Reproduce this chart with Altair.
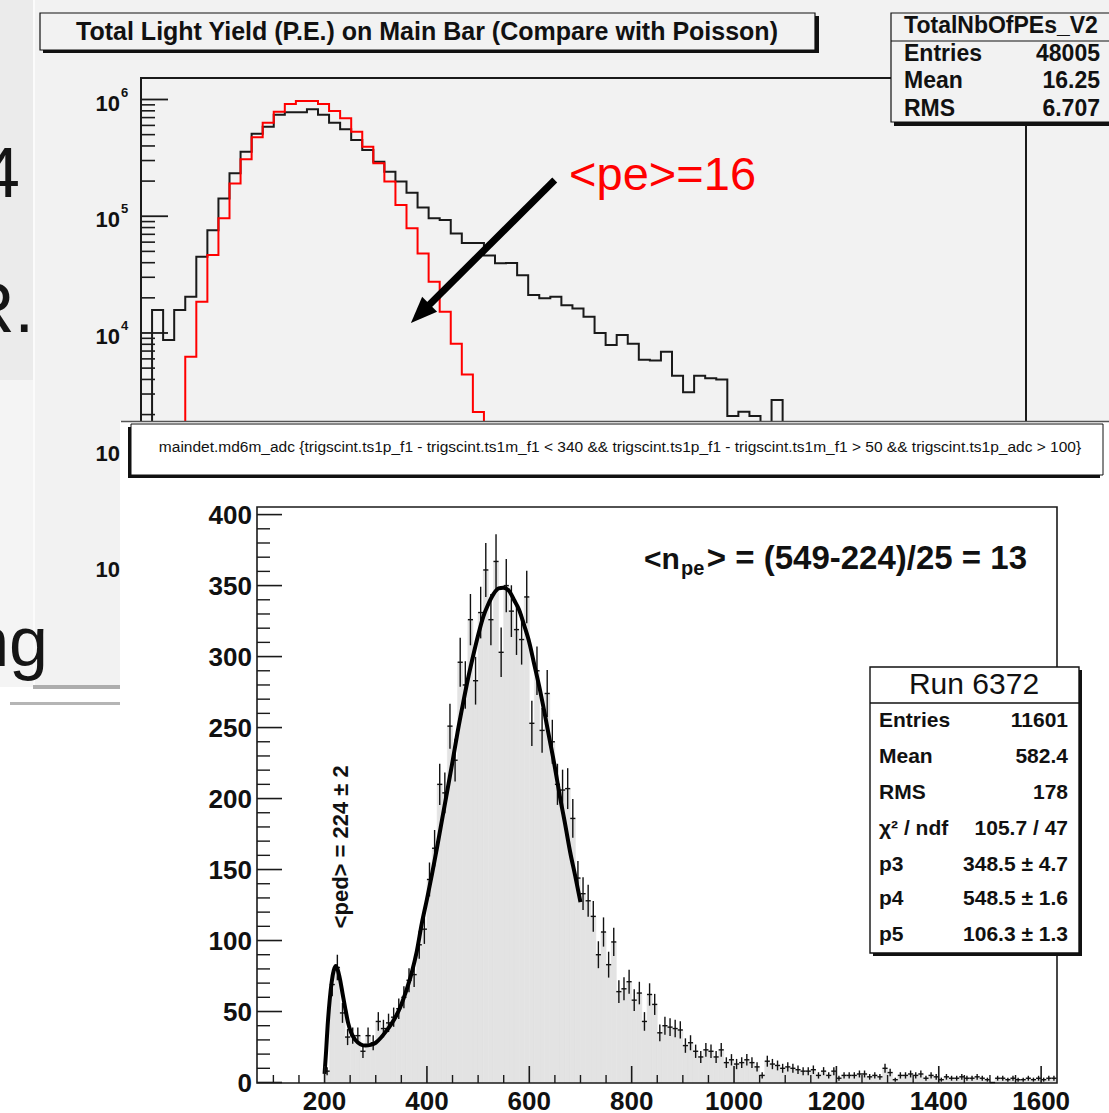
import altair as alt
import pandas as pd

FONT = "Liberation Sans"

# ---------------- top panel: Total Light Yield (log y) ----------------
top_black = [200, 15700, 8700, 15700, 20400, 45000, 76000, 142000, 233000, 357000,
             510000, 585000, 740000, 777000, 777000, 824000, 740000, 633000, 556000, 450000,
             369000, 293000, 240000, 198000, 159000, 119000, 96000, 93000, 71000, 59000,
             59000, 46000, 39500, 39800, 31300, 21100, 19800, 20400, 17300, 16200,
             13800, 10000, 7900, 9600, 8100, 5900, 5800, 6900, 4300, 3100,
             4300, 4100, 4000, 1940, 2110, 1940, 1200, 2660, 1400, 1100,
             1300, 900, 800, 700, 900, 600, 500, 550, 400, 350,
             300, 280, 200, 220, 150, 120, 100, 90, 60, 40]
top_red = [1, 3, 60, 1500, 6250, 18500, 46600, 96000, 191000, 307000,
           474000, 633000, 787000, 915000, 970000, 970000, 915000, 796000, 690000, 530000,
           394000, 284000, 198000, 125000, 79000, 48000, 27500, 15200, 8100, 4400,
           2100, 1000, 450, 200, 90, 35, 14, 5, 2, 1]
top_major = [10, 100, 1000, 10000, 100000, 1000000]
top_minor_mult = [2, 3, 4, 5, 6, 7, 8, 9]
top_decades = [10, 100, 1000, 10000, 100000]
top_label_val = [100, 1000, 10000, 100000, 1000000]
top_label_exp = ["2", "3", "4", "5", "6"]
top_stats_labels = ["Entries", "Mean", "RMS"]
top_stats_values = ["48005", "16.25", "6.707"]
arrow_x = [37.4, 25.2]
arrow_y = [204000, 14500]
arrow_tip_x = [24.4]
arrow_tip_y = [12200]
pe_text_x = [38.7]
pe_text_y = [168000]

# ---------------- bottom panel: maindet.md6m_adc ----------------
bin_lo = list(range(200, 1630, 10))
counts = [8, 69, 81, 49, 32, 33, 33, 22, 33, 28,
          43, 38, 42, 46, 52, 60, 72, 76, 97, 108,
          143, 165, 210, 204, 251, 227, 296, 280, 326, 283,
          331, 361, 326, 367, 303, 350, 332, 319, 312, 342,
          253, 290, 248, 274, 240, 210, 206, 207, 186, 144,
          133, 128, 117, 90, 106, 83, 99, 64, 66, 71,
          58, 63, 43, 62, 55, 35, 40, 39, 38, 37,
          26, 28, 22, 18, 23, 22, 18, 23, 14, 16,
          13, 14, 16, 14, 11, 5, 15, 13, 12, 10,
          11, 10, 9, 8, 8, 9, 5, 8, 5, 8,
          3, 5, 5, 5, 6, 6, 4, 5, 4, 10,
          7, 2, 5, 5, 6, 5, 6, 3, 5, 4,
          2, 4, 3, 3, 4, 3, 3, 4, 3, 2,
          0, 3, 3, 2, 3, 2, 2, 3, 2, 3,
          2, 3, 3]
fit_x = [200, 203, 206, 210, 214, 218, 222, 226, 230, 235,
         240, 246, 252, 260, 270, 280, 290, 300, 310, 320,
         330, 340, 350, 360, 370, 380, 390, 400, 410, 420,
         430, 440, 450, 460, 470, 480, 490, 500, 510, 520,
         530, 540, 549, 560, 570, 580, 590, 600, 610, 620,
         630, 640, 650, 660, 670, 680, 690, 700]
fit_y = [6, 22, 40, 58, 71, 79, 82, 79, 73, 63,
         53, 42, 35, 30, 27, 26, 26.5, 28, 31.5, 36,
         41, 47, 55, 65, 77, 92, 112, 129, 147, 166,
         186, 206, 226, 247, 266, 284, 300, 315, 328, 337,
         344, 348, 348.5, 346.5, 340, 333, 322, 310, 294, 278,
         260, 241, 222, 201, 182, 162, 145, 127]
bot_y_major = [0, 50, 100, 150, 200, 250, 300, 350, 400]
bot_y_minor = [v for v in range(0, 406, 10) if v % 50]
bot_x_major = [200, 400, 600, 800, 1000, 1200, 1400, 1600]
bot_x_minor = [v for v in range(100, 1631, 50) if v % 200]
stats_labels = ["Entries", "Mean", "RMS", "χ² / ndf", "p3", "p4", "p5"]
stats_values = ["11601", "582.4", "178", "105.7 / 47", "348.5 ± 4.7", "548.5 ± 1.6", "106.3 ± 1.3"]
ped_text_x = [232]
ped_text_y = [166]

# ---------------- helpers ----------------
one = pd.DataFrame({"k": [0]})


def rect(x, x2, y, y2, fill=None, stroke=None, sw=1.0):
    kw = {}
    if fill is not None:
        kw["fill"] = fill
    else:
        kw["fill"] = "white"
        kw["fillOpacity"] = 0
    if stroke is not None:
        kw["stroke"] = stroke
        kw["strokeWidth"] = sw
    else:
        kw["strokeWidth"] = 0
    return alt.Chart(one).mark_rect(**kw).encode(
        x=alt.value(x), x2=alt.value(x2), y=alt.value(y), y2=alt.value(y2))


def hline(x, x2, y, color="#111", w=1.5):
    return alt.Chart(one).mark_rule(color=color, strokeWidth=w).encode(
        x=alt.value(x), x2=alt.value(x2), y=alt.value(y))


def text(x, y, s, size, weight="normal", align="left", baseline="middle", color="#111"):
    return alt.Chart(one).mark_text(
        text=s, fontSize=size, fontWeight=weight, align=align, baseline=baseline,
        color=color, font=FONT).encode(x=alt.value(x), y=alt.value(y))


layers = []

# ---------------- backgrounds ----------------
layers.append(rect(0, 1109, 0, 1113, fill="white"))
layers.append(rect(0, 33, 0, 380, fill="#ebebeb"))
layers.append(rect(0, 33, 380, 687, fill="#f4f4f4"))
layers.append(rect(35, 1109, 0, 687, fill="#f2f2f2"))

# ---------------- top panel ----------------
TX = alt.Scale(domain=[0, 80], range=[141, 1026], nice=False, zero=False)
TY = alt.Scale(type="log", domain=[10, 1000000], range=[683.2, 99.5], nice=False)

# title box with shadow
layers.append(rect(43, 819, 16, 53, fill="#111"))
layers.append(rect(40, 815, 13, 50, fill="#f2f2f2", stroke="#111", sw=1.2))
layers.append(text(427, 32, "Total Light Yield (P.E.) on Main Bar (Compare with Poisson)", 25, "bold", "center"))

# frame
layers.append(rect(141, 1026, 78, 683, stroke="#1a1a1a", sw=2))

# ticks
layers.append(alt.Chart(pd.DataFrame({"v": top_major})).mark_rule(color="#1a1a1a", strokeWidth=1.8).encode(
    y=alt.Y("v:Q", scale=TY, axis=None), x=alt.value(141), x2=alt.value(168)))
minor_vals = [m * d for d in top_decades for m in top_minor_mult]
layers.append(alt.Chart(pd.DataFrame({"v": minor_vals})).mark_rule(color="#1a1a1a", strokeWidth=1.6).encode(
    y=alt.Y("v:Q", scale=TY, axis=None), x=alt.value(141), x2=alt.value(155)))
lab_df = pd.DataFrame({"v": top_label_val, "e": top_label_exp})
layers.append(alt.Chart(lab_df).mark_text(
    text="10", align="right", baseline="alphabetic", dy=11, fontSize=22, fontWeight="bold",
    font=FONT, color="#111").encode(y=alt.Y("v:Q", scale=TY, axis=None), x=alt.value(120)))
layers.append(alt.Chart(lab_df).mark_text(
    align="left", baseline="alphabetic", dy=-3, fontSize=13, fontWeight="bold",
    font=FONT, color="#111").encode(y=alt.Y("v:Q", scale=TY, axis=None), x=alt.value(121), text="e:N"))

# histograms
df_black = pd.DataFrame({"x": list(range(len(top_black) + 1)), "v": top_black + top_black[-1:]})
layers.append(alt.Chart(df_black).mark_line(interpolate="step-after", color="#1a1a1a", strokeWidth=2).encode(
    x=alt.X("x:Q", scale=TX, axis=None), y=alt.Y("v:Q", scale=TY, axis=None)))
df_red = pd.DataFrame({"x": list(range(len(top_red) + 1)), "v": top_red + top_red[-1:]})
layers.append(alt.Chart(df_red).mark_line(interpolate="step-after", color="#ff0000", strokeWidth=2).encode(
    x=alt.X("x:Q", scale=TX, axis=None), y=alt.Y("v:Q", scale=TY, axis=None)))

# arrow + annotation
layers.append(alt.Chart(pd.DataFrame({"x": arrow_x, "v": arrow_y})).mark_line(
    color="black", strokeWidth=7, strokeCap="butt").encode(
    x=alt.X("x:Q", scale=TX, axis=None), y=alt.Y("v:Q", scale=TY, axis=None)))
layers.append(alt.Chart(pd.DataFrame({"x": arrow_tip_x, "v": arrow_tip_y})).mark_point(
    shape="M0,0L0.8,2L-0.8,2Z", filled=True, size=700, angle=225, color="black", opacity=1).encode(
    x=alt.X("x:Q", scale=TX, axis=None), y=alt.Y("v:Q", scale=TY, axis=None)))
layers.append(alt.Chart(pd.DataFrame({"x": pe_text_x, "v": pe_text_y})).mark_text(
    text="<pe>=16", align="left", baseline="alphabetic", fontSize=47, color="#ff0000", font=FONT).encode(
    x=alt.X("x:Q", scale=TX, axis=None), y=alt.Y("v:Q", scale=TY, axis=None)))

# top stats box
layers.append(rect(894, 1112, 16, 126, fill="#111"))
layers.append(rect(891, 1112, 13, 122, fill="#f2f2f2", stroke="#111", sw=1.2))
layers.append(hline(891, 1109, 41, "#111", 1.2))
layers.append(text(1001, 26, "TotalNbOfPEs_V2", 23, "bold", "center"))
for i, (lab, val) in enumerate(zip(top_stats_labels, top_stats_values)):
    yy = 54 + 27.3 * i
    layers.append(text(904, yy, lab, 23, "bold", "left"))
    layers.append(text(1100, yy, val, 23, "bold", "right"))

# slide text fragments and shadows on the left
layers.append(rect(33, 35, 0, 687, fill="#fbfbfb"))
layers.append(text(20, 197, "4", 70, "normal", "right", "alphabetic", "#151515"))
layers.append(text(34, 332, "R.", 70, "normal", "right", "alphabetic", "#151515"))
layers.append(text(48, 666, "ng", 70, "normal", "right", "alphabetic", "#151515"))
layers.append(rect(33, 120, 685, 689, fill="#adadad"))
layers.append(rect(10, 120, 702, 705, fill="#b5b5b5"))

# ---------------- bottom panel ----------------
BX = alt.Scale(domain=[68, 1631], range=[257, 1057], nice=False, zero=False)
BY = alt.Scale(domain=[0, 405], range=[1082.5, 507.5], nice=False, zero=False)

layers.append(rect(120, 1109, 421, 1113, fill="white"))
layers.append(hline(121, 1109, 421.5, "#555", 1.5))
layers.append(rect(128, 1100, 427, 478, fill="#111"))
layers.append(rect(131, 1103, 424, 475, fill="white", stroke="#111", sw=1))
layers.append(text(620, 447, "maindet.md6m_adc {trigscint.ts1p_f1 - trigscint.ts1m_f1 < 340 && trigscint.ts1p_f1 - trigscint.ts1m_f1 > 50 && trigscint.ts1p_adc > 100}", 15.5, "normal", "center"))

df_bot = pd.DataFrame({"lo": bin_lo, "n": counts})
calc = dict(hi="datum.lo + 10", c="datum.lo + 5", z="0",
            e1="datum.n - sqrt(datum.n)", e2="datum.n + sqrt(datum.n)")
base = alt.Chart(df_bot).transform_calculate(**calc)
layers.append(base.mark_rect(color="#e3e3e3", stroke="#e3e3e3", strokeWidth=0.6).encode(
    x=alt.X("lo:Q", scale=BX, axis=None), x2="hi:Q",
    y=alt.Y("n:Q", scale=BY, axis=None), y2="z:Q"))

# frame
layers.append(rect(257, 1057, 507, 1083, stroke="#1a1a1a", sw=1.6))

# error bars
layers.append(base.mark_rule(color="#111", strokeWidth=1.4).encode(
    x=alt.X("c:Q", scale=BX, axis=None),
    y=alt.Y("e1:Q", scale=BY, axis=None), y2="e2:Q"))
layers.append(base.mark_rule(color="#111", strokeWidth=1.4).encode(
    x=alt.X("lo:Q", scale=BX, axis=None), x2="hi:Q",
    y=alt.Y("n:Q", scale=BY, axis=None)))

# fit curve
layers.append(alt.Chart(pd.DataFrame({"x": fit_x, "y": fit_y})).mark_line(
    color="black", strokeWidth=4, interpolate="monotone", strokeJoin="round").encode(
    x=alt.X("x:Q", scale=BX, axis=None), y=alt.Y("y:Q", scale=BY, axis=None)))

# ticks
layers.append(alt.Chart(pd.DataFrame({"v": bot_y_major})).mark_rule(color="#1a1a1a", strokeWidth=1.6).encode(
    y=alt.Y("v:Q", scale=BY, axis=None), x=alt.value(257), x2=alt.value(282)))
layers.append(alt.Chart(pd.DataFrame({"v": bot_y_minor})).mark_rule(color="#1a1a1a", strokeWidth=1.4).encode(
    y=alt.Y("v:Q", scale=BY, axis=None), x=alt.value(257), x2=alt.value(270)))
layers.append(alt.Chart(pd.DataFrame({"v": bot_x_major})).mark_rule(color="#1a1a1a", strokeWidth=1.6).encode(
    x=alt.X("v:Q", scale=BX, axis=None), y=alt.value(1083), y2=alt.value(1066)))
layers.append(alt.Chart(pd.DataFrame({"v": bot_x_minor})).mark_rule(color="#1a1a1a", strokeWidth=1.4).encode(
    x=alt.X("v:Q", scale=BX, axis=None), y=alt.value(1083), y2=alt.value(1075)))

# tick labels
layers.append(alt.Chart(pd.DataFrame({"v": bot_y_major, "t": [str(v) for v in bot_y_major]})).mark_text(
    align="right", baseline="alphabetic", dy=9.5, fontSize=26, fontWeight="bold", font=FONT, color="#111").encode(
    y=alt.Y("v:Q", scale=BY, axis=None), x=alt.value(252), text="t:N"))
layers.append(alt.Chart(pd.DataFrame({"v": bot_x_major, "t": [str(v) for v in bot_x_major]})).mark_text(
    align="center", baseline="alphabetic", fontSize=26, fontWeight="bold", font=FONT, color="#111").encode(
    x=alt.X("v:Q", scale=BX, axis=None), y=alt.value(1110), text="t:N"))

# annotations
layers.append(alt.Chart(pd.DataFrame({"x": ped_text_x, "y": ped_text_y})).mark_text(
    text="<ped> = 224 ± 2", angle=270, align="center", baseline="middle", fontSize=22,
    fontWeight="bold", font=FONT, color="#111").encode(
    x=alt.X("x:Q", scale=BX, axis=None), y=alt.Y("y:Q", scale=BY, axis=None)))
layers.append(text(644, 569, "<n", 30, "bold", "left", "alphabetic"))
layers.append(text(681, 575, "pe", 20, "bold", "left", "alphabetic"))
layers.append(text(1027, 569, "> = (549-224)/25 = 13", 33, "bold", "right", "alphabetic"))

# stats box
layers.append(rect(873, 1082, 670, 956, fill="#111"))
layers.append(rect(870, 1079, 667, 953, fill="white", stroke="#111", sw=1.4))
layers.append(hline(870, 1079, 703, "#111", 1.4))
layers.append(text(974, 685, "Run 6372", 30, "normal", "center"))
row_y = [721, 757, 793, 829, 865, 899, 935]
for yy, lab, val in zip(row_y, stats_labels, stats_values):
    layers.append(text(879, yy, lab, 21, "bold", "left"))
    layers.append(text(1068, yy, val, 21, "bold", "right"))

chart = alt.layer(*layers).resolve_scale(
    x="independent", y="independent"
).properties(
    width=1109, height=1113, padding=0,
    autosize=alt.AutoSizeParams(type="none"), background="white"
).configure_view(strokeWidth=0)

chart.save("out.html", embed_options={"renderer": "svg", "actions": False})
